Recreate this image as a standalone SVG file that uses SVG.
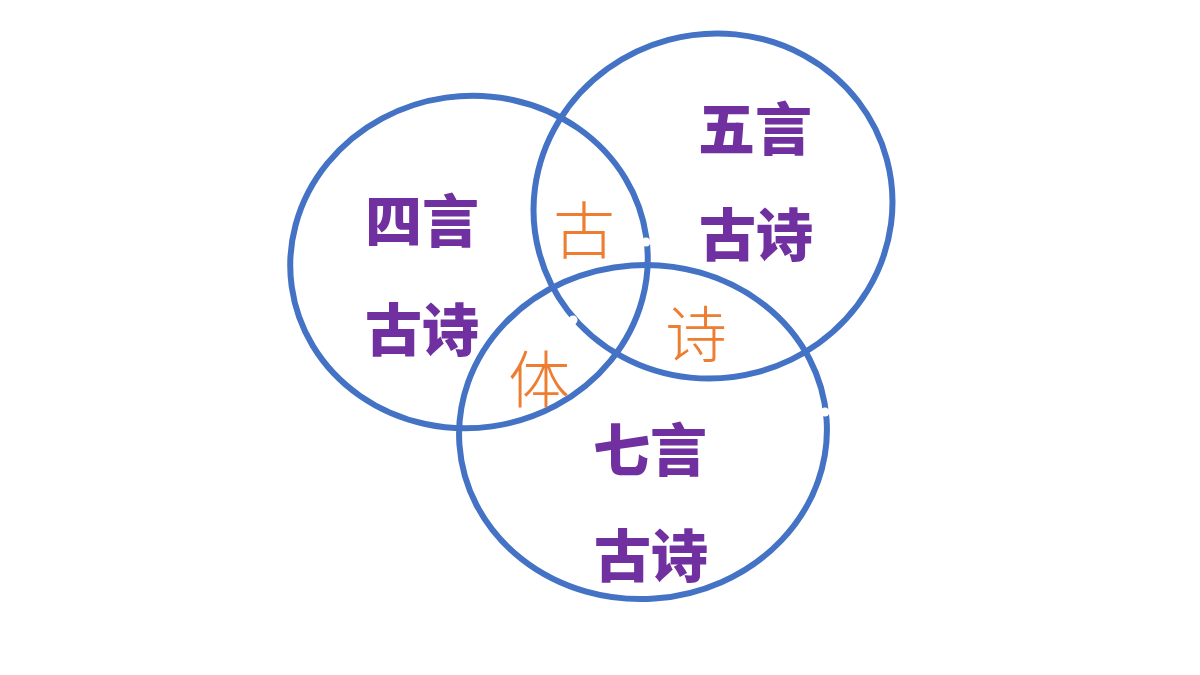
<svg xmlns="http://www.w3.org/2000/svg" width="1200" height="675" viewBox="0 0 1200 675">
<style>
.ring{fill:none;stroke:#4472C4;stroke-width:6}
.p{font-family:"Noto Sans CJK SC","Noto Sans CJK JP",sans-serif;font-weight:900;font-size:57px;fill:#7030A0;text-anchor:middle;dominant-baseline:central}
.o{font-family:"Noto Sans CJK SC","Noto Sans CJK JP",sans-serif;font-weight:300;font-size:62px;fill:#ED7D31;text-anchor:middle;dominant-baseline:central}
.dot{fill:#fff}
</style>
<rect width="1200" height="675" fill="#fff"/>
<g id="connectors"></g>
<g id="circle-left">
<ellipse class="ring" cx="469" cy="262" rx="179" ry="166" transform="rotate(-8 469 262)"/>
<text class="p" x="422" y="217">四言</text>
<text class="p" x="422" y="326">古诗</text>
</g>
<g id="circle-topright">
<ellipse class="ring" cx="713" cy="206" rx="180" ry="172" transform="rotate(-15 713 206)"/>
<text class="p" x="755" y="125">五言</text>
<text class="p" x="756" y="231">古诗</text>
</g>
<g id="circle-bottom">
<ellipse class="ring" cx="643" cy="432" rx="184" ry="167" transform="rotate(-4 643 432)"/>
<text class="p" x="650" y="446">七言</text>
<text class="p" x="651" y="552">古诗</text>
</g>
<g id="center-labels">
<text class="o" x="584" y="227">古</text>
<text class="o" x="696" y="331">诗</text>
<text class="o" x="539" y="376">体</text>
</g>
<g id="dots">
<circle class="dot" cx="646" cy="242" r="4.5"/>
<circle class="dot" cx="573" cy="320" r="4.5"/>
<circle class="dot" cx="825" cy="412" r="4.5"/>
</g>
</svg>
